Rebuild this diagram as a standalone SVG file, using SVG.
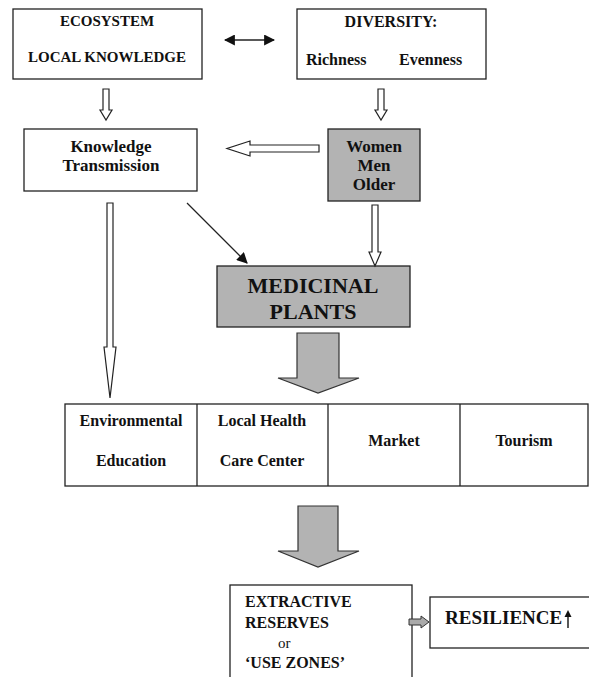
<svg xmlns="http://www.w3.org/2000/svg" width="589" height="677" viewBox="0 0 589 677">
<style>
.box{fill:#fff;stroke:#222;stroke-width:1.3}
.gbox{fill:#b3b3b3;stroke:#222;stroke-width:1.3}
.t{font-family:"Liberation Serif","Times New Roman",serif;font-weight:bold;fill:#111}
.c{text-anchor:middle}
.hollow{fill:#fff;stroke:#222;stroke-width:1.2;stroke-linejoin:miter}
.big{fill:#b3b3b3;stroke:#333;stroke-width:1.2}
.line{stroke:#222;stroke-width:1.3;fill:none}
</style>
<defs>
<marker id="ah" viewBox="0 0 10 10" refX="9" refY="5" markerWidth="11" markerHeight="11" markerUnits="userSpaceOnUse" orient="auto-start-reverse">
<path d="M0,0 L10,5 L0,10 z" fill="#111"/>
</marker>
<marker id="ah2" viewBox="0 0 10 10" refX="9" refY="5" markerWidth="11" markerHeight="11" markerUnits="userSpaceOnUse" orient="auto">
<path d="M0,0 L10,5 L0,10 z" fill="#111"/>
</marker>
</defs>

<g id="ecosystem">
<rect class="box" x="13" y="9" width="189" height="70"/>
<text class="t c" x="107" y="26" font-size="15">ECOSYSTEM</text>
<text class="t c" x="107" y="62" font-size="15">LOCAL KNOWLEDGE</text>
</g>

<g id="diversity">
<rect class="box" x="297" y="9" width="189" height="70"/>
<text class="t c" x="391" y="27" font-size="16">DIVERSITY:</text>
<text class="t" x="306" y="65" font-size="16">Richness</text>
<text class="t" x="399" y="65" font-size="16">Evenness</text>
</g>

<g id="knowledge">
<rect class="box" x="24" y="129" width="173" height="62"/>
<text class="t c" x="111" y="152" font-size="17">Knowledge</text>
<text class="t c" x="111" y="171" font-size="17">Transmission</text>
</g>

<g id="groups">
<rect class="gbox" x="328" y="129" width="92" height="72"/>
<text class="t c" x="374" y="152" font-size="17">Women</text>
<text class="t c" x="374" y="171" font-size="17">Men</text>
<text class="t c" x="374" y="190" font-size="17">Older</text>
</g>

<g id="medicinal">
<rect class="gbox" x="217" y="266" width="193" height="61"/>
<text class="t c" x="313" y="293" font-size="22">MEDICINAL</text>
<text class="t c" x="313" y="319" font-size="22">PLANTS</text>
</g>

<g id="uses">
<rect class="box" x="65" y="404" width="523" height="82"/>
<line class="line" x1="197" y1="404" x2="197" y2="486"/>
<line class="line" x1="328" y1="404" x2="328" y2="486"/>
<line class="line" x1="460" y1="404" x2="460" y2="486"/>
<text class="t c" x="131" y="426" font-size="16">Environmental</text>
<text class="t c" x="131" y="466" font-size="16">Education</text>
<text class="t c" x="262" y="426" font-size="16">Local Health</text>
<text class="t c" x="262" y="466" font-size="16">Care Center</text>
<text class="t c" x="394" y="446" font-size="16">Market</text>
<text class="t c" x="524" y="446" font-size="16">Tourism</text>
</g>

<g id="reserves">
<rect class="box" x="230" y="585" width="182" height="100"/>
<text class="t" x="245" y="607" font-size="16">EXTRACTIVE</text>
<text class="t" x="245" y="628" font-size="16">RESERVES</text>
<text x="278" y="648" font-size="15" font-family="Liberation Serif,Times New Roman,serif" fill="#111">or</text>
<text class="t" x="245" y="668" font-size="16">‘USE ZONES’</text>
</g>

<g id="resilience">
<rect class="box" x="430" y="597" width="165" height="51"/>
<text class="t" x="445" y="624" font-size="19">RESILIENCE</text>
<path d="M568,628 V616" stroke="#111" stroke-width="1.4"/>
<path d="M564.5,617 L568,610 L571.5,617 z" fill="#111"/>
</g>

<g id="connectors">
<line class="line" x1="225" y1="40" x2="274" y2="40" marker-start="url(#ah)" marker-end="url(#ah)"/>
<path class="hollow" d="M103,89 H109 V110 H112 L106,120 L100,110 H103 Z"/>
<path class="hollow" d="M378,89 H384 V110 H387 L381,120 L375,110 H378 Z"/>
<path class="hollow" d="M319,145 V152 H250 V156 L227,148.5 L250,141 V145 Z"/>
<path class="hollow" d="M372,205 H378 V252 H381 L375,266 L369,252 H372 Z"/>
<path class="hollow" d="M107,203 H113 V347 H116 L110,398 L104,347 H107 Z"/>
<line class="line" x1="187" y1="203" x2="247" y2="263" marker-end="url(#ah2)"/>
<path class="big" d="M297,333 H339 V378 H359 L318,393 L278,378 H297 Z"/>
<path class="big" d="M298,506 H338 V551 H359 L318,567 L278,551 H298 Z"/>
<path d="M409,619 H421 V616 L429,622 L421,628 V625 H409 Z" fill="#aaa" stroke="#333" stroke-width="1"/>
</g>
</svg>
